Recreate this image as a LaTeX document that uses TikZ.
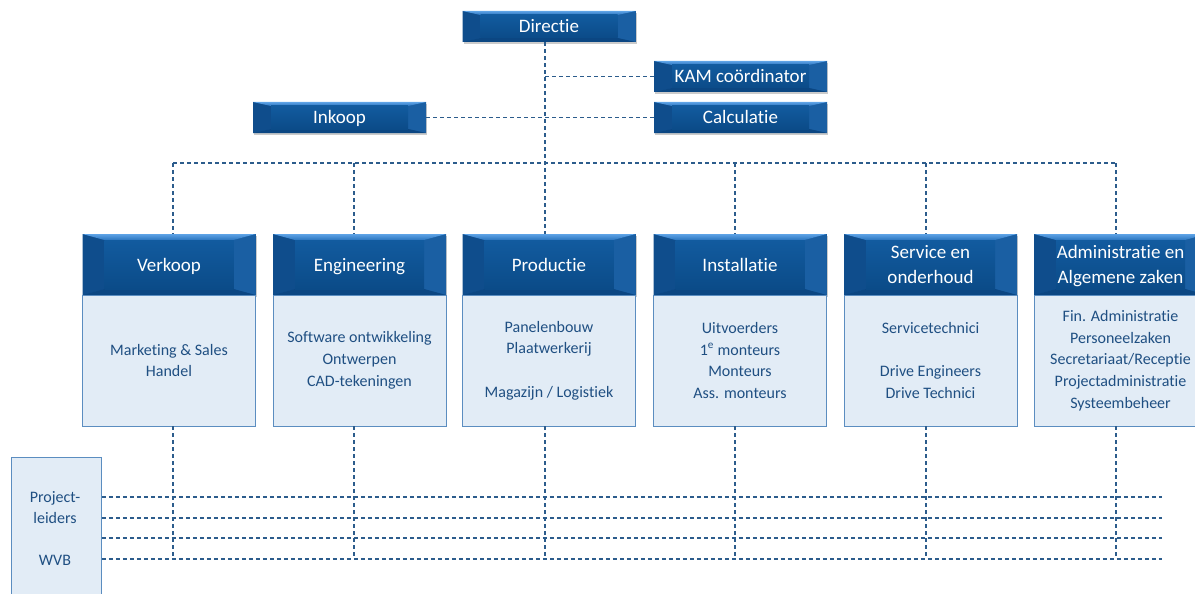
\documentclass[tikz,border=0pt]{standalone}
\usepackage{fontspec}
\setmainfont{Carlito}[Ligatures={NoCommon,NoRequired,NoContextual}]
\usetikzlibrary{shadows}
\definecolor{bvbase}{HTML}{13579A}
\definecolor{bvtopA}{HTML}{5EA3E6}
\definecolor{bvtopB}{HTML}{2A74BE}
\definecolor{bvleft}{HTML}{0F4D8C}
\definecolor{bvright}{HTML}{1A5FA3}
\definecolor{bvbot}{HTML}{0B4682}
\definecolor{bvcA}{HTML}{125B9F}
\definecolor{bvcB}{HTML}{0B4B88}
\definecolor{bodyfill}{HTML}{E2ECF6}
\definecolor{bodyline}{HTML}{5B8DC0}
\definecolor{bodytext}{HTML}{1F4F82}
\definecolor{dashcol}{HTML}{2C5C8C}
\newcommand\hstrut{\rule[-4pt]{0pt}{21pt}}
\tikzset{
  bevel/.style 2 args={path picture={
    \fill[bvleft] (path picture bounding box.north west) -- ([shift={(#1,-#2)}]path picture bounding box.north west)
      -- ([shift={(#1,#2)}]path picture bounding box.south west) -- (path picture bounding box.south west) -- cycle;
    \fill[bvright] (path picture bounding box.north east) -- ([shift={(-#1,-#2)}]path picture bounding box.north east)
      -- ([shift={(-#1,#2)}]path picture bounding box.south east) -- (path picture bounding box.south east) -- cycle;
    \fill[bvbot] (path picture bounding box.south west) -- ([shift={(#1,#2)}]path picture bounding box.south west)
      -- ([shift={(-#1,#2)}]path picture bounding box.south east) -- (path picture bounding box.south east) -- cycle;
    \shade[top color=bvtopA, bottom color=bvtopB] (path picture bounding box.north west) -- (path picture bounding box.north east)
      -- ([shift={(-#1,-#2)}]path picture bounding box.north east) -- ([shift={(#1,-#2)}]path picture bounding box.north west) -- cycle;
    \shade[top color=bvcA, bottom color=bvcB] ([shift={(#1,-#2)}]path picture bounding box.north west) rectangle ([shift={(-#1,#2)}]path picture bounding box.south east);
  }},
  btn/.style={rectangle, inner sep=0pt, minimum width=173pt, minimum height=31pt, fill=bvbase,
    bevel={18pt}{4pt}, text=white, font=\fontsize{19}{24}\selectfont,
    text height=17pt, text depth=4pt,
    drop shadow={shadow xshift=1pt, shadow yshift=-2pt, fill=black!45, opacity=.45}},
  hdr/.style={rectangle, inner sep=0pt, minimum width=173pt, minimum height=61pt, fill=bvbase,
    bevel={22pt}{6pt}, text=white, align=center, font=\fontsize{19}{25}\selectfont,
    drop shadow={shadow xshift=1pt, shadow yshift=-2pt, fill=black!45, opacity=.45}},
  bodybox/.style={rectangle, inner sep=0pt, minimum width=173pt, minimum height=131pt, fill=bodyfill,
    draw=bodyline, line width=0.9pt, text=bodytext, align=center, font=\fontsize{16}{21.7}\selectfont},
  dline/.style={draw=dashcol, line width=1.1pt, dash pattern=on 4pt off 3pt},
}
\begin{document}
\begin{tikzpicture}[x=1pt, y=-1pt]
\useasboundingbox (0,0) rectangle (1195,594);
\coordinate (spine) at (545,163);
\coordinate (bus1) at (173,163);
\coordinate (bus2) at (354,163);
\coordinate (bus4) at (735,163);
\coordinate (bus5) at (926,163);
\coordinate (bus6) at (1116,163);
\coordinate (lowend) at (1162,497);

% top buttons
\node[btn] (dir) at (549,26.5) {Directie};
\node[btn] (kam) at (740.5,76.5) {KAM coördinator};
\node[btn] (calc) at (740.5,117.5) {Calculatie};
\node[btn] (ink) at (339.5,117.5) {Inkoop};

% columns
\node[hdr] (h1) at (169,264.5) {\hstrut Verkoop};
\node[hdr] (h2) at (359.5,264.5) {\hstrut Engineering};
\node[hdr] (h3) at (549,264.5) {\hstrut Productie};
\node[hdr] (h4) at (740,264.5) {\hstrut Installatie};
\node[hdr] (h5) at (930.5,264.5) {\hstrut Service en\\\hstrut onderhoud};
\node[hdr] (h6) at (1120.5,264.5) {\hstrut Administratie en\\\hstrut Algemene zaken};

\node[bodybox] (b1) at (169,360.5) {Marketing \& Sales\\Handel};
\node[bodybox] (b2) at (359.5,360.5) {Software ontwikkeling\\Ontwerpen\\CAD-tekeningen};
\node[bodybox] (b3) at (549,360.5) {Panelenbouw\\Plaatwerkerij\\[21.7pt]Magazijn / Logistiek};
\node[bodybox] (b4) at (740,360.5) {Uitvoerders\\1\textsuperscript{e} monteurs\\Monteurs\\Ass. monteurs};
\node[bodybox] (b5) at (930.5,360.5) {Servicetechnici\\[21.7pt]Drive Engineers\\Drive Technici};
\node[bodybox] (b6) at (1120.5,360.5) {Fin. Administratie\\Personeelzaken\\Secretariaat/Receptie\\Projectadministratie\\Systeembeheer};

% project box
\node[bodybox, minimum width=90pt, minimum height=143pt, anchor=north west] (proj) at (11,457) {};
\node[text=bodytext, align=center, font=\fontsize{16}{21}\selectfont] (projtxt) at (55,528.5) {Project-\\leiders\\[21pt]WVB};

% dashed connectors
\draw[dline] (dir.south -| spine) -- (spine) -- (h3.north -| spine);
\draw[dline] (kam.west -| spine) -- (kam.west);
\draw[dline] (ink.east) -- (calc.west);
\draw[dline] (bus1) -- (bus6);
\draw[dline] (bus1) -- (h1.north -| bus1);
\draw[dline] (bus2) -- (h2.north -| bus2);
\draw[dline] (bus4) -- (h4.north -| bus4);
\draw[dline] (bus5) -- (h5.north -| bus5);
\draw[dline] (bus6) -- (h6.north -| bus6);

\foreach \b/\c in {b1/bus1,b2/bus2,b3/spine,b4/bus4,b5/bus5,b6/bus6}{
  \draw[dline] (\b.south -| \c) -- ++(0,131);
}
\foreach \yy in {497,518,538,559}{
  \draw[dline] (proj.east |- {0,\yy}) -- (lowend |- {0,\yy});
}
\end{tikzpicture}
\end{document}
